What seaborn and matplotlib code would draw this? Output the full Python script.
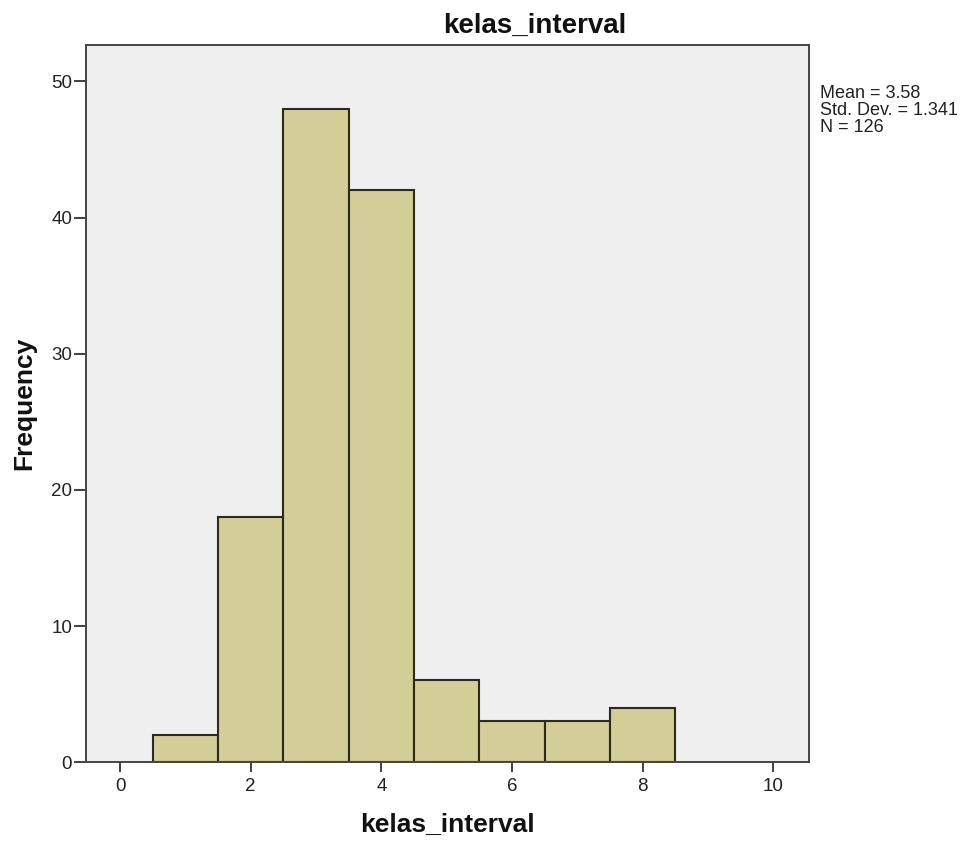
import matplotlib
matplotlib.use("Agg")
import matplotlib.pyplot as plt
import seaborn as sns
import numpy as np

# histogram of kelas_interval (bin centres and counts)
bin_centers = [1, 2, 3, 4, 5, 6, 7, 8]
counts = [2, 18, 48, 42, 6, 3, 3, 4]
bin_edges = [0.5, 1.5, 2.5, 3.5, 4.5, 5.5, 6.5, 7.5, 8.5]
x_ticks = [0, 2, 4, 6, 8, 10]
y_ticks = [0, 10, 20, 30, 40, 50]
stats_lines = ["Mean = 3.58", "Std. Dev. = 1.341", "N = 126"]

sns.set_style("white")
plt.rcParams['font.family'] = ['Liberation Sans', 'DejaVu Sans']

fig = plt.figure(figsize=(9.7, 8.44), dpi=100)
ax = fig.add_axes([0.0887, 0.097, 0.745, 0.85])
ax.set_facecolor("#efefef")

sns.histplot(x=bin_centers, weights=counts, bins=bin_edges, ax=ax,
             color="#d3ce97", edgecolor="#2b2b1c", linewidth=1.5, alpha=1)

ax.set_xlim(-0.52, 10.54)
ax.set_ylim(0, 52.7)
ax.set_xticks(x_ticks)
ax.set_yticks(y_ticks)
ax.tick_params(axis='both', direction='out', width=1.3, bottom=True, left=True,
               labelsize=13.5, color="#333333", labelcolor="#222222")
ax.tick_params(axis='y', length=9, pad=1)
ax.tick_params(axis='x', length=7.5, pad=4)
for s in ax.spines.values():
    s.set_color("#444444")
    s.set_linewidth(1.4)

fig.text(535 / 970, 1 - 33 / 844, "kelas_interval", fontsize=20,
         fontweight="bold", ha="center", va="baseline", color="#111111")
ax.set_xlabel("kelas_interval", fontsize=19, fontweight="bold",
              labelpad=12, color="#111111")
ax.set_ylabel("Frequency", fontsize=19, fontweight="bold",
              labelpad=11, color="#111111")

fig.text(820 / 970, 1 - 85 / 844, "\n".join(stats_lines), fontsize=13,
         va="top", ha="left", linespacing=1.0, color="#222222")

fig.savefig("out.png", dpi=100)
